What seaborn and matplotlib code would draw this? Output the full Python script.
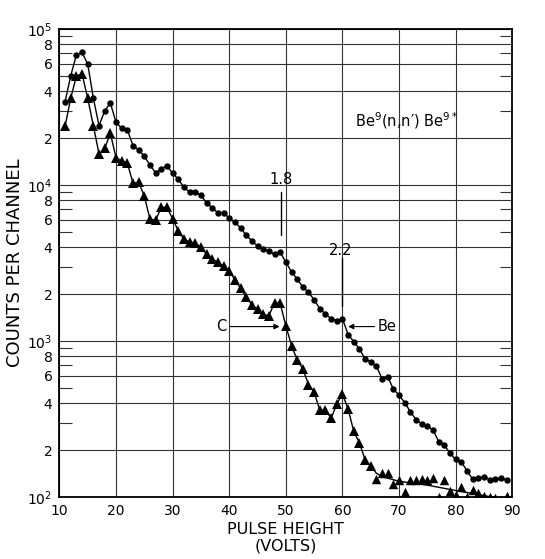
import matplotlib
matplotlib.use("Agg")
import matplotlib.pyplot as plt
import seaborn as sns
import pandas as pd

# Pulse-height spectra, one channel per volt
volts = list(range(11, 90))
be_counts = [
    34200, 50200, 68100, 70800, 59700, 36000, 24000, 29900, 33600, 25200,
    23100, 22600, 17900, 16800, 15300, 13400, 12000, 12700, 13300, 11900,
    10900, 9660, 9000, 9000, 8600, 7650, 7150, 6620, 6660, 6120,
    5780, 5320, 4760, 4400, 4050, 3880, 3760, 3600, 3700, 3200,
    2780, 2490, 2220, 2050, 1840, 1610, 1490, 1390, 1350, 1390,
    1100, 990, 890, 765, 735, 690, 572, 590, 490, 450,
    402, 352, 313, 294, 285, 269, 226, 215, 190, 174,
    168, 147, 130, 132, 135, 129, 130, 132, 128,
]
c_counts = [
    23800, 36000, 50000, 51500, 36000, 24000, 15800, 17200, 21400, 15000,
    14300, 13800, 10300, 10400, 8500, 6030, 5950, 7200, 7200, 6050,
    5100, 4480, 4320, 4220, 4010, 3590, 3350, 3200, 3020, 2820,
    2460, 2180, 1915, 1700, 1600, 1480, 1450, 1760, 1740, 1250,
    935, 755, 663, 526, 470, 359, 361, 319, 396, 457,
    366, 263, 222, 173, 157, 130, 143, 143, 121, 128,
    107, 128, 129, 131, 129, 132, 100, 128, 109, 103,
    115, 100, 110, 106, 102, 100, 98, 96, 101,
]
# smooth curve drawn through the scattered carbon tail
c_guide_volts = [65, 66, 67, 70, 75, 80, 85, 89]
c_guide_counts = [157, 142, 135, 126, 119, 110, 102, 96]
c_joined_until = 65

x_ticks = [10, 20, 30, 40, 50, 60, 70, 80, 90]
y_ticks = [100, 200, 400, 600, 800,
           1000, 2000, 4000, 6000, 8000,
           10000, 20000, 40000, 60000, 80000, 100000]
y_tick_labels = [r"$10^2$", "2", "4", "6", "8",
                 r"$10^3$", "2", "4", "6", "8",
                 r"$10^4$", "2", "4", "6", "8", r"$10^5$"]
y_short_ticks = [m * d for d in (100, 1000, 10000) for m in (3, 5, 7, 9)]

sns.set_style("white")
plt.rcParams["font.family"] = ["DejaVu Sans"]
plt.rcParams["mathtext.default"] = "regular"
for key in ("text.color", "axes.labelcolor", "xtick.color", "ytick.color"):
    plt.rcParams[key] = "black"

fig = plt.figure(figsize=(5.45, 5.59), dpi=100)
ax = fig.add_axes([0.109, 0.111, 0.831, 0.837])

be = pd.DataFrame({"volts": volts, "counts": be_counts})
c = pd.DataFrame({"volts": volts, "counts": c_counts})
c_head = c[c["volts"] <= c_joined_until]
c_tail = c[c["volts"] > c_joined_until]
guide = pd.DataFrame({"volts": c_guide_volts, "counts": c_guide_counts})

sns.lineplot(data=be, x="volts", y="counts", ax=ax, color="black", lw=1.0,
             marker="o", markersize=4.6, markeredgewidth=0, estimator=None)
sns.lineplot(data=c_head, x="volts", y="counts", ax=ax, color="black", lw=1.0,
             marker="^", markersize=6.6, markeredgewidth=0, estimator=None)
sns.lineplot(data=guide, x="volts", y="counts", ax=ax, color="black", lw=1.0,
             estimator=None)
sns.scatterplot(data=c_tail, x="volts", y="counts", ax=ax, color="black",
                marker="^", s=46, linewidth=0, zorder=3)

ax.set_yscale("log")
ax.set_xlim(10, 90)
ax.set_ylim(100, 100000)

ax.set_xticks(x_ticks)
ax.set_xticklabels([str(t) for t in x_ticks])
ax.set_yticks(y_ticks)
ax.set_yticklabels(y_tick_labels)
ax.yaxis.set_minor_locator(matplotlib.ticker.FixedLocator(y_short_ticks))
ax.yaxis.set_minor_formatter(matplotlib.ticker.NullFormatter())
ax.tick_params(axis="both", which="major", length=0, labelsize=10)
ax.tick_params(axis="x", which="major", pad=5)
ax.tick_params(axis="y", which="major", pad=5)
ax.tick_params(axis="y", which="minor", direction="in", length=9, width=0.8,
               left=True, right=True, color="#333333")
ax.grid(True, which="major", color="#333333", lw=0.8)

for sp in ax.spines.values():
    sp.set_color("black")
    sp.set_linewidth(1.3)

ax.set_xlabel("PULSE HEIGHT\n(VOLTS)", fontsize=11.5, labelpad=3,
              linespacing=1.15)
ax.set_ylabel("COUNTS PER CHANNEL", fontsize=13, labelpad=2)

ax.text(62.2, 26000, "Be$^9$(n,n\u2032) Be$^{9*}$", fontsize=10.5,
        ha="left", va="center")

ax.text(49.1, 10800, "1.8", fontsize=10.5, ha="center", va="center")
ax.plot([49.1, 49.1], [9000, 4800], color="black", lw=1.0)
ax.text(59.6, 3830, "2.2", fontsize=10.5, ha="center", va="center")
ax.plot([60.0, 60.0], [3400, 1680], color="black", lw=1.0)

ax.annotate("", xy=(48.9, 1237), xytext=(40.1, 1237),
            arrowprops=dict(arrowstyle="-|>", color="black", lw=0.8,
                            mutation_scale=8, shrinkA=0, shrinkB=0))
ax.text(38.6, 1237, "C", fontsize=10.5, ha="center", va="center")
ax.annotate("", xy=(61.0, 1237), xytext=(65.7, 1237),
            arrowprops=dict(arrowstyle="-|>", color="black", lw=0.8,
                            mutation_scale=8, shrinkA=0, shrinkB=0))
ax.text(67.8, 1237, "Be", fontsize=10.5, ha="center", va="center")

fig.savefig("out.png", dpi=100)
